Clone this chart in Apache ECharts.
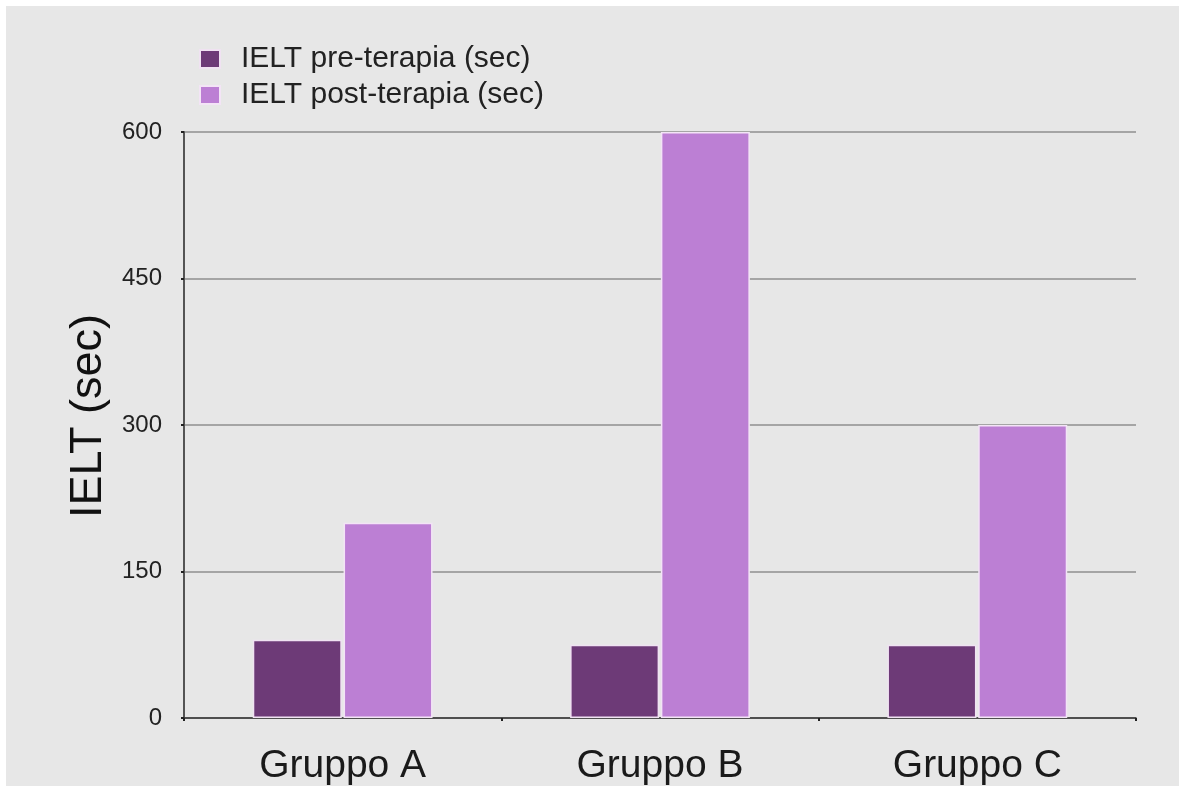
<!DOCTYPE html>
<html>
<head>
<meta charset="utf-8">
<script src="https://cdn.jsdelivr.net/npm/echarts@6/dist/echarts.min.js"></script>
<style>
  html, body { margin: 0; padding: 0; background: #ffffff; }
  #chart { position: absolute; left: 6px; top: 6px; width: 1173px; height: 780px; background: #e7e7e7; }
</style>
</head>
<body>
<div id="chart"></div>
<script>
// IELT per gruppo, prima e dopo la terapia
const categories = ['Gruppo A', 'Gruppo B', 'Gruppo C'];
const preTerapia = [80, 75, 75];
const postTerapia = [200, 600, 300];
const yTicks = [0, 150, 300, 450, 600];
const seriesNames = ['IELT pre-terapia (sec)', 'IELT post-terapia (sec)'];

const chart = echarts.init(document.getElementById('chart'));
const font = 'Liberation Sans, Arial, Helvetica, sans-serif';

chart.setOption({
  backgroundColor: '#e7e7e7',
  animation: false,
  legend: {
    orient: 'vertical',
    left: 188,
    top: 33,
    itemWidth: 20,
    itemHeight: 18,
    itemGap: 6,
    icon: 'rect',
    textStyle: { fontFamily: font, fontSize: 30, color: '#222', padding: [0, 0, 0, 16] },
    data: seriesNames
  },
  grid: { left: 178, right: 43, top: 126, bottom: 68 },
  xAxis: {
    type: 'category',
    data: categories,
    axisLine: { lineStyle: { color: '#333', width: 1.5 } },
    axisTick: { show: true, length: 3, lineStyle: { color: '#222', width: 2 } },
    axisLabel: { fontFamily: font, fontSize: 39, color: '#1a1a1a', margin: 29 }
  },
  yAxis: {
    type: 'value',
    min: yTicks[0],
    max: yTicks[yTicks.length - 1],
    interval: 150,
    name: 'IELT (sec)',
    nameLocation: 'middle',
    nameGap: 73,
    nameTextStyle: { fontFamily: font, fontSize: 45, color: '#111', padding: [0, 0, 0, 18] },
    axisLine: { show: true, lineStyle: { color: '#555', width: 2 } },
    axisTick: { show: true, length: 3, lineStyle: { color: '#222', width: 2 } },
    axisLabel: { fontFamily: font, fontSize: 24, color: '#222', margin: 22 },
    splitLine: { lineStyle: { color: '#8f8f8f', width: 1.5 } }
  },
  series: [
    {
      name: seriesNames[0],
      type: 'bar',
      data: preTerapia,
      barWidth: 89,
      barGap: '2%',
      itemStyle: { color: '#6d3a77', borderColor: '#f0e2f2', borderWidth: 1.5 }
    },
    {
      name: seriesNames[1],
      type: 'bar',
      data: postTerapia,
      barWidth: 89,
      barGap: '2%',
      itemStyle: { color: '#bc7fd4', borderColor: '#f3e4f6', borderWidth: 1.5 }
    }
  ]
});
</script>
</body>
</html>
